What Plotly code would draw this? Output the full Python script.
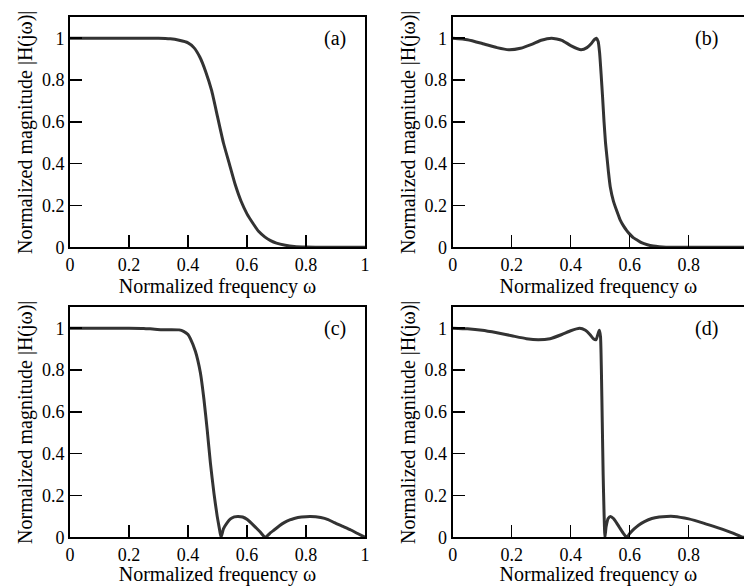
import plotly.graph_objects as go

# ---------------- data ----------------
# (a) Butterworth-like response
xa = [0, 0.1, 0.2, 0.3, 0.34, 0.37, 0.40, 0.42, 0.44, 0.46, 0.48, 0.50, 0.52, 0.54, 0.56,
      0.58, 0.60, 0.62, 0.64, 0.66, 0.68, 0.70, 0.73, 0.76, 0.80, 0.85, 0.9, 1.0]
ya = [1.0, 1.0, 1.0, 1.0, 0.997, 0.99, 0.978, 0.955, 0.91, 0.84, 0.75, 0.625, 0.50, 0.40, 0.30,
      0.22, 0.16, 0.115, 0.075, 0.05, 0.032, 0.02, 0.01, 0.004, 0.001, 0.0, 0.0, 0.0]

# (b) Chebyshev-like response
xb = [0, 0.05, 0.1, 0.15, 0.19, 0.23, 0.27, 0.30, 0.335, 0.37, 0.40, 0.435, 0.455, 0.47, 0.48,
      0.487, 0.493, 0.498, 0.503, 0.508, 0.513, 0.518, 0.523, 0.528, 0.534, 0.545, 0.556, 0.568,
      0.58, 0.59, 0.60, 0.613, 0.625, 0.64, 0.66, 0.68, 0.70, 0.75, 1.0]
yb = [1.0, 0.993, 0.975, 0.955, 0.945, 0.952, 0.972, 0.99, 1.0, 0.99, 0.965, 0.945, 0.955, 0.975, 0.993,
      1.0, 0.985, 0.93, 0.83, 0.72, 0.60, 0.50, 0.43, 0.36, 0.29, 0.22, 0.175, 0.13,
      0.10, 0.08, 0.063, 0.045, 0.035, 0.022, 0.012, 0.006, 0.003, 0.0, 0.0]

# (c) inverse Chebyshev-like response
xc = [0, 0.1, 0.2, 0.25, 0.28, 0.31, 0.34, 0.37, 0.385, 0.40, 0.408, 0.425, 0.442, 0.454, 0.465,
      0.476, 0.488, 0.499, 0.506, 0.512, 0.52, 0.533, 0.544, 0.557, 0.57, 0.585, 0.601, 0.624, 0.645,
      0.662, 0.68, 0.692, 0.71, 0.726, 0.745, 0.76, 0.785, 0.815, 0.85, 0.875, 0.896, 0.925, 0.952,
      0.975, 1.0]
yc = [1.0, 1.0, 1.0, 0.999, 0.996, 0.993, 0.993, 0.992, 0.985, 0.97, 0.95, 0.89, 0.787, 0.66, 0.515,
      0.355, 0.21, 0.10, 0.045, 0.0, 0.04, 0.07, 0.088, 0.098, 0.10, 0.097, 0.085, 0.055, 0.025,
      0.0, 0.022, 0.035, 0.055, 0.07, 0.083, 0.09, 0.097, 0.10, 0.095, 0.085, 0.07, 0.052, 0.035,
      0.018, 0.0]

# (d) elliptic-like response
xd = [0, 0.05, 0.1, 0.15, 0.2, 0.25, 0.29, 0.33, 0.37, 0.40, 0.43, 0.45, 0.465, 0.478, 0.486,
      0.492, 0.497, 0.501, 0.504, 0.507, 0.51, 0.513, 0.516, 0.52, 0.527, 0.535, 0.545, 0.555,
      0.565, 0.578, 0.59, 0.60, 0.615, 0.63, 0.65, 0.675, 0.70, 0.725, 0.75, 0.8, 0.85, 0.9, 0.95, 0.985, 1.0]
yd = [1.0, 0.997, 0.99, 0.978, 0.964, 0.95, 0.945, 0.95, 0.97, 0.988, 1.0, 0.99, 0.97, 0.948, 0.945,
      0.97, 0.99, 0.96, 0.80, 0.55, 0.30, 0.12, 0.0, 0.05, 0.09, 0.10, 0.09, 0.07,
      0.048, 0.02, 0.0, 0.018, 0.04, 0.058, 0.075, 0.09, 0.097, 0.10, 0.10, 0.088, 0.068, 0.045, 0.02, 0.0, 0.0]

panel_labels = ["(a)", "(b)", "(c)", "(d)"]
x_tickvals = [0, 0.2, 0.4, 0.6, 0.8, 1.0]
x_ticktext = ["0", "0.2", "0.4", "0.6", "0.8", "1"]
y_tickvals = [0, 0.2, 0.4, 0.6, 0.8, 1.0]
y_ticktext = ["0", "0.2", "0.4", "0.6", "0.8", "1"]
x_title = "Normalized frequency ω"
y_title = "Normalized magnitude |H(jω)|"

# ---------------- layout geometry ----------------
W, H = 744, 586
FONT = "Liberation Serif, Times New Roman, serif"
LINE_COLOR = "#333333"
TICK_SIZE = 18
TITLE_SIZE = 20

x_domains = [[70 / W, 365 / W], [452.7 / W, 1.0], [70 / W, 365 / W], [452.7 / W, 1.0]]
top_row = [1 - 247.3 / H, 1 - 17.3 / H]
bot_row = [1 - 537.3 / H, 1 - 307.3 / H]
y_domains = [top_row, top_row, bot_row, bot_row]
x_ranges = [[0, 1], [0, (744 - 452.7) / 295.0], [0, 1], [0, (744 - 452.7) / 295.0]]
label_x = [0.942, 0.906, 0.942, 0.906]

series = [(xa, ya), (xb, yb), (xc, yc), (xd, yd)]

fig = go.Figure()
layout = dict(
    width=W, height=H,
    margin=dict(l=0, r=0, t=0, b=0, pad=0, autoexpand=False),
    paper_bgcolor="white", plot_bgcolor="white",
    showlegend=False,
    font=dict(family=FONT, size=TICK_SIZE, color="black"),
)

annotations = []
for i, (xs, ys) in enumerate(series):
    n = i + 1
    xname = "x" if n == 1 else f"x{n}"
    yname = "y" if n == 1 else f"y{n}"
    fig.add_trace(go.Scatter(x=xs, y=ys, mode="lines", xaxis=xname, yaxis=yname,
                             line=dict(color=LINE_COLOR, width=3, shape="spline", smoothing=0.5),
                             hoverinfo="skip"))
    right_panel = n in (2, 4)
    xkey = "xaxis" if n == 1 else f"xaxis{n}"
    ykey = "yaxis" if n == 1 else f"yaxis{n}"
    yrkey = f"yaxis{n + 4}"
    layout[xkey] = dict(
        domain=x_domains[i], range=x_ranges[i], anchor=yname, automargin=False,
        showline=True, linecolor="black", linewidth=2, mirror=True,
        ticks="inside", ticklen=12, tickwidth=1.5, tickcolor="black",
        tickvals=x_tickvals, ticktext=x_ticktext, showgrid=False, zeroline=False,
        tickfont=dict(family=FONT, size=TICK_SIZE, color="black"),
        title=dict(text=x_title, font=dict(family=FONT, size=TITLE_SIZE, color="black"), standoff=2),
    )
    layout[ykey] = dict(
        domain=y_domains[i], range=[0, 1.1], anchor=xname, automargin=False,
        showline=True, linecolor="black", linewidth=2, mirror=(not right_panel),
        ticks="inside", ticklen=12, tickwidth=1.5, tickcolor="black",
        tickvals=y_tickvals, ticktext=y_ticktext, showgrid=False, zeroline=False,
        tickfont=dict(family=FONT, size=TICK_SIZE, color="black"),
        title=dict(text=y_title, font=dict(family=FONT, size=TITLE_SIZE, color="black"), standoff=4),
    )
    layout[yrkey] = dict(
        overlaying=yname, side="right", anchor=xname, range=[0, 1.1], automargin=False,
        showline=False, ticks="inside", ticklen=9 if right_panel else 12,
        tickwidth=1.5, tickcolor="black", tickvals=y_tickvals[1:],
        showticklabels=False, showgrid=False, zeroline=False,
    )
    annotations.append(dict(
        text=panel_labels[i], xref=xname, yref=yname, x=label_x[i], y=1.0,
        xanchor="right", yanchor="middle", showarrow=False,
        font=dict(family=FONT, size=TITLE_SIZE, color="black"),
    ))

layout["annotations"] = annotations
fig.update_layout(**layout)
fig.write_html(
    "out.html",
    config={"displayModeBar": False, "staticPlot": True},
    post_script="document.body.style.margin='0';document.body.style.padding='0';"
                "document.body.style.overflow='hidden';",
)
